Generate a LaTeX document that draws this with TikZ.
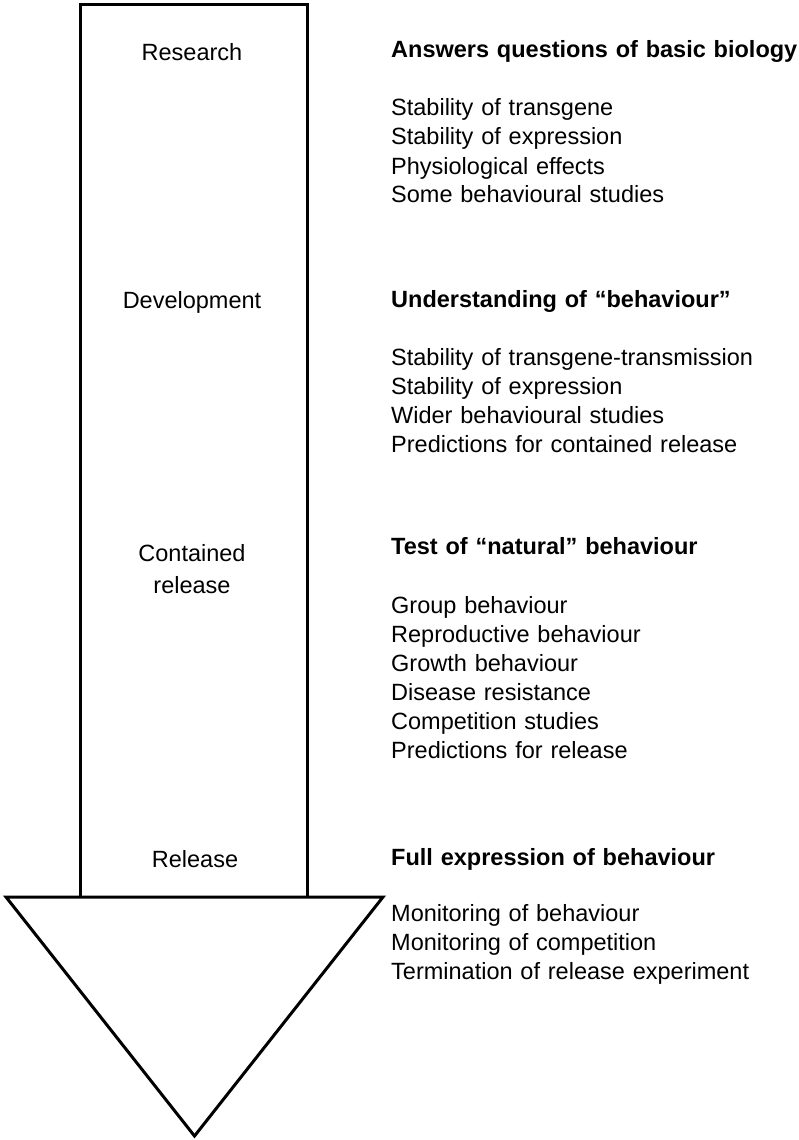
\documentclass[tikz,border=0pt]{standalone}
\usepackage{fontspec}
\setmainfont{Liberation Sans}

\begin{document}
\begin{tikzpicture}[x=1pt,y=-1pt,
    stage/.style={anchor=base,inner sep=0,align=center,font=\stagefontsize},
    findings/.style={anchor=base west,inner sep=0,text width=440pt,align=left,font=\itemfontsize}]
    \pgfmathsetmacro{\shaftleft}{80}
    \pgfmathsetmacro{\shaftright}{307}
    \pgfmathsetmacro{\shafttop}{5}
    \pgfmathsetmacro{\headtop}{897}
    \pgfmathsetmacro{\headleft}{6}
    \pgfmathsetmacro{\headright}{383}
    \pgfmathsetmacro{\headtip}{1136}
    \pgfmathsetmacro{\stagex}{192}
    \pgfmathsetmacro{\textleft}{391}
    \providecommand{\stagefontsize}{\fontsize{23.5pt}{32pt}\selectfont}
    \providecommand{\itemfontsize}{\fontsize{23.5pt}{29pt}\selectfont}
    \useasboundingbox (0,0) rectangle (799,1140);
    % the big arrow
    \draw[line width=3pt] (\shaftleft,\headtop) -- (\shaftleft,\shafttop) -- (\shaftright,\shafttop) -- (\shaftright,\headtop);
    \draw[line width=3pt] (\headleft,\headtop) -- (\headright,\headtop) -- ({(\headleft+\headright)/2},\headtip) -- cycle;
    % stages inside the shaft
    \node[stage] (research) at (\stagex,61) {Research};
    \node[stage] (development) at (\stagex,308) {Development};
    \node[stage] (contained) at (\stagex,593) {Contained\\release};
    \node[stage] (release) at (\stagex+3,867) {Release};
    % what is learned at each stage
    \node[findings] (basic) at (\textleft,58)
    {\textbf{Answers questions of basic biology}\\[29pt]
        Stability of transgene\\
        Stability of expression\\
        Physiological effects\\
        Some behavioural studies};
    \node[findings] (behaviour) at (\textleft,307)
    {\textbf{Understanding of “behaviour”}\\[29pt]
        Stability of transgene-transmission\\
        Stability of expression\\
        Wider behavioural studies\\
        Predictions for contained release};
    \node[findings] (natural) at (\textleft,554)
    {\textbf{Test of “natural” behaviour}\\[30pt]
        Group behaviour\\
        Reproductive behaviour\\
        Growth behaviour\\
        Disease resistance\\
        Competition studies\\
        Predictions for release};
    \node[findings] (full) at (\textleft,865)
    {\textbf{Full expression of behaviour}\\[27pt]
        Monitoring of behaviour\\
        Monitoring of competition\\
        Termination of release experiment};
\end{tikzpicture}
\end{document}
